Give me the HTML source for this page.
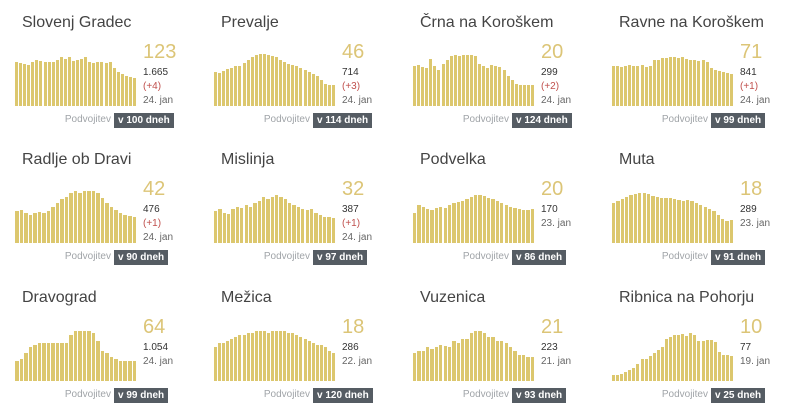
<!DOCTYPE html>
<html><head><meta charset="utf-8"><style>
body{margin:0;width:800px;height:415px;background:#fff;font-family:"Liberation Sans",sans-serif;overflow:hidden;position:relative}
.c{position:absolute;width:199px;height:137px}
.t{position:absolute;left:22px;top:14px;font-size:16px;color:#444;white-space:nowrap}
.ch{position:absolute;left:15px;top:49px;width:122px;height:57px}
.b{position:absolute;bottom:0;width:3px;background:#dcc76e}
.big{position:absolute;left:143px;top:41px;font-size:20px;color:#dcc577}
.s{position:absolute;left:143px;font-size:10px;line-height:14px}
.pd{position:absolute;right:88px;top:114px;font-size:10px;color:#a0a4a8}
.bd{position:absolute;left:114px;top:113px;background:#555c63;color:#fff;font-size:10px;font-weight:bold;padding:1px 4px;line-height:13px;white-space:nowrap}
</style></head><body>
<div id="root"></div>
<script>
var D=[
["Slovenj Gradec","123","1.665","(+4)","24. jan","v 100 dneh",[44,43,42,41,44,46,45,44,44,44,46,49,47,49,45,46,47,49,44,43,44,44,43,44,38,34,32,30,29,28]],
["Prevalje","46","714","(+3)","24. jan","v 114 dneh",[34,33,35,37,38,40,40,43,46,49,51,52,52,51,50,49,46,44,42,41,40,38,36,34,32,30,26,22,21,21]],
["Črna na Koroškem","20","299","(+2)","24. jan","v 124 dneh",[40,41,39,38,47,40,36,42,46,50,51,50,51,51,51,50,42,40,38,41,40,39,36,30,26,22,21,21,21,21]],
["Ravne na Koroškem","71","841","(+1)","24. jan","v 99 dneh",[40,40,39,40,41,40,40,41,39,40,46,46,48,48,49,49,48,49,47,46,46,45,46,44,38,36,35,34,33,32]],
["Radlje ob Dravi","42","476","(+1)","24. jan","v 90 dneh",[32,33,30,28,30,31,30,32,36,40,44,46,50,52,50,52,52,52,50,45,40,36,33,30,28,27,26]],
["Mislinja","32","387","(+1)","24. jan","v 97 dneh",[32,34,30,29,34,36,35,38,36,40,42,46,44,46,48,46,44,40,38,36,34,33,34,30,28,26,26,25]],
["Podvelka","20","170","","23. jan","v 86 dneh",[30,38,36,34,33,35,36,35,38,40,41,42,44,46,48,48,47,45,44,42,40,38,36,35,34,33,33,34]],
["Muta","18","289","","23. jan","v 91 dneh",[40,42,44,46,48,49,50,50,49,47,46,45,45,45,44,43,42,43,42,40,38,36,34,32,28,24,22,23]],
["Dravograd","64","1.054","","24. jan","v 99 dneh",[20,22,28,34,36,38,38,38,38,38,38,38,46,50,50,50,50,48,40,30,28,24,22,20,20,20,20]],
["Mežica","18","286","","22. jan","v 120 dneh",[34,38,38,40,42,44,46,46,48,48,50,50,50,48,50,50,50,50,48,48,46,44,42,40,38,36,36,34,30,28]],
["Vuzenica","21","223","","21. jan","v 93 dneh",[28,30,30,34,32,34,36,35,34,40,38,42,42,48,50,50,48,44,44,40,40,38,34,30,26,26,24,24]],
["Ribnica na Pohorju","10","77","","19. jan","v 25 dneh",[6,6,7,9,11,13,17,22,22,25,28,31,34,42,44,46,46,47,45,48,46,40,40,41,41,39,29,26,26,25]]];
var h="";
D.forEach(function(d,i){
 var x=(i%4)*199,y=Math.floor(i/4)*137+(Math.floor(i/4)==2?1:0);
 var n=d[6].length,w=122/n,bars="";
 d[6].forEach(function(v,j){bars+='<div class="b" style="left:'+(j*w).toFixed(1)+'px;width:'+(w-1).toFixed(1)+'px;height:'+v+'px"></div>';});
 var s='<div class="s" style="top:66px;color:#333">'+d[2]+'</div>';
 if(d[3]){s+='<div class="s" style="top:80px;color:#c0504d">'+d[3]+'</div><div class="s" style="top:94px;color:#666">'+d[4]+'</div>';}
 else s+='<div class="s" style="top:80px;color:#666">'+d[4]+'</div>';
 h+='<div class="c" style="left:'+x+'px;top:'+y+'px"><div class="t">'+d[0]+'</div><div class="ch">'+bars+'</div><div class="big">'+d[1]+'</div>'+s+'<div class="pd">Podvojitev</div><div class="bd">'+d[5]+'</div></div>';
});
document.getElementById("root").innerHTML=h;
</script>
</body></html>
